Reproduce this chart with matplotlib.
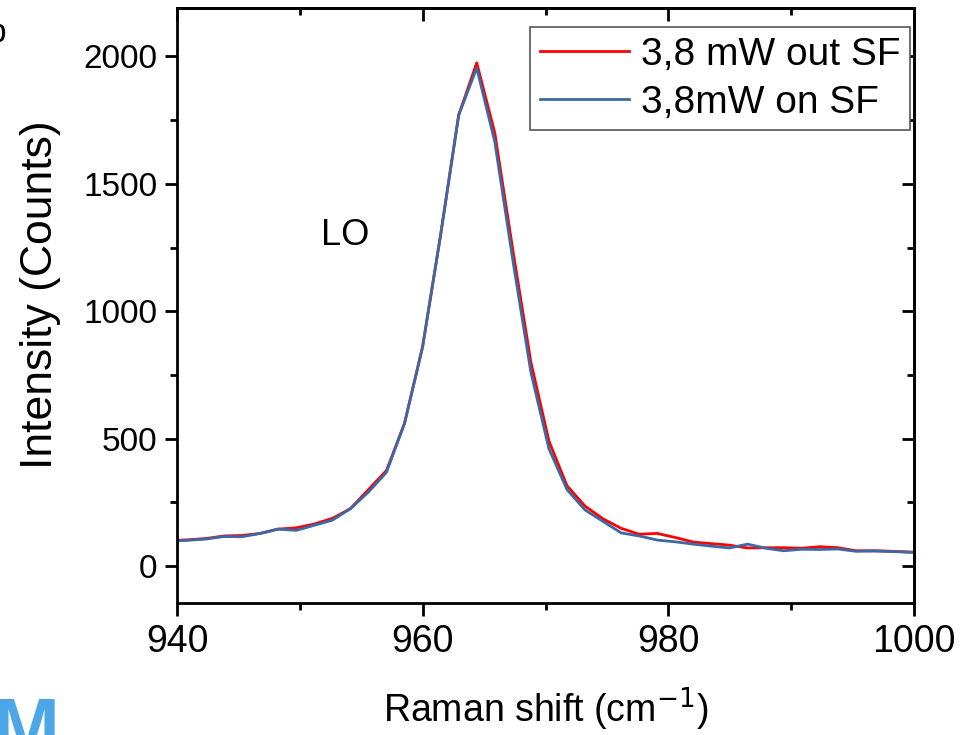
import matplotlib
matplotlib.use("Agg")
import matplotlib.pyplot as plt
from matplotlib.ticker import MultipleLocator

plt.rcParams['font.family'] = ['Liberation Sans', 'DejaVu Sans']

# Raman shift axis (cm^-1)
shift = [939.41, 940.88, 942.35, 943.82, 945.29, 946.76, 948.23, 949.70, 951.17,
         952.64, 954.11, 955.58, 957.05, 958.52, 959.99, 961.46, 962.93, 964.40,
         965.87, 967.34, 968.81, 970.28, 971.75, 973.22, 974.69, 976.16, 977.63,
         979.10, 980.57, 982.04, 983.51, 984.98, 986.45, 987.92, 989.39, 990.86,
         992.33, 993.80, 995.27, 996.74, 998.21, 999.68, 1001.15]

# Counts, 3,8 mW outside the fibre
out_sf = [100, 103, 108, 118, 120, 128, 145, 150, 165,
          187, 225, 300, 375, 560, 860, 1300, 1770, 1975,
          1700, 1240, 800, 490, 315, 235, 185, 148, 125,
          128, 112, 94, 88, 82, 71, 72, 72, 70,
          76, 72, 60, 60, 58, 55, 53]

# Counts, 3,8 mW on the fibre
on_sf = [98, 101, 106, 116, 115, 128, 145, 140, 160,
         180, 225, 290, 368, 560, 860, 1300, 1770, 1955,
         1665, 1200, 760, 460, 300, 220, 175, 130, 118,
         102, 95, 86, 78, 71, 86, 70, 60, 66,
         65, 67, 58, 59, 57, 54, 52]

labels = ["3,8 mW out SF", "3,8mW on SF"]

fig = plt.figure(figsize=(9.78, 7.35), dpi=100)
ax = fig.add_axes([0.181, 0.1796, 0.7536, 0.8094])

ax.plot(shift, out_sf, color="#ff0000", lw=2.0, label=labels[0])
ax.plot(shift, on_sf, color="#3a6aa5", lw=2.0, label=labels[1])

ax.set_xlim(940, 1000)
ax.set_ylim(-145, 2190)

ax.xaxis.set_major_locator(MultipleLocator(20))
ax.xaxis.set_minor_locator(MultipleLocator(10))
ax.yaxis.set_major_locator(MultipleLocator(500))
ax.yaxis.set_minor_locator(MultipleLocator(250))

for s in ax.spines.values():
    s.set_linewidth(2.0)

ax.tick_params(which="both", direction="out", width=2.0,
               top=False, right=False)
ax.tick_params(which="major", length=9, pad=5)
ax.tick_params(which="minor", length=5)
ax.tick_params(axis="x", labelsize=27, pad=6)
ax.tick_params(axis="y", labelsize=24)

# inward ticks on the top and right frame
sec_x = ax.secondary_xaxis("top")
sec_x.xaxis.set_major_locator(MultipleLocator(20))
sec_x.xaxis.set_minor_locator(MultipleLocator(10))
sec_x.tick_params(which="both", direction="in", width=2.0, labeltop=False)
sec_x.tick_params(which="major", length=9)
sec_x.tick_params(which="minor", length=5)
sec_x.spines["top"].set_linewidth(2.0)
sec_y = ax.secondary_yaxis("right")
sec_y.yaxis.set_major_locator(MultipleLocator(500))
sec_y.yaxis.set_minor_locator(MultipleLocator(250))
sec_y.tick_params(which="both", direction="in", width=2.0, labelright=False)
sec_y.tick_params(which="major", length=9)
sec_y.tick_params(which="minor", length=5)
sec_y.spines["right"].set_linewidth(2.0)

ax.set_xlabel("Raman shift (cm$^{-1}$)", fontsize=27, labelpad=18)
ax.set_ylabel("Intensity (Counts)", fontsize=32, labelpad=10)
ax.yaxis.set_label_coords(-0.157, 0.518)

ax.text(953.7, 1298, "LO", fontsize=26, ha="center", va="center")

leg = ax.legend(loc="upper right", bbox_to_anchor=(0.9946, 0.968),
                borderaxespad=0, fontsize=28, handlelength=2.3,
                handletextpad=0.3, labelspacing=0.3, borderpad=0.25,
                fancybox=False, framealpha=1)
leg.get_frame().set_edgecolor("#555555")
leg.get_frame().set_linewidth(1.2)

# panel letter and logo at the page edges
fig.text(-0.012, 0.955, "b", fontsize=24, ha="left", va="center")
fig.text(-0.008, -0.05, "M", fontsize=58, fontweight="bold",
         color="#4da6e8", ha="left", va="bottom")

fig.savefig("out.png", dpi=100)
